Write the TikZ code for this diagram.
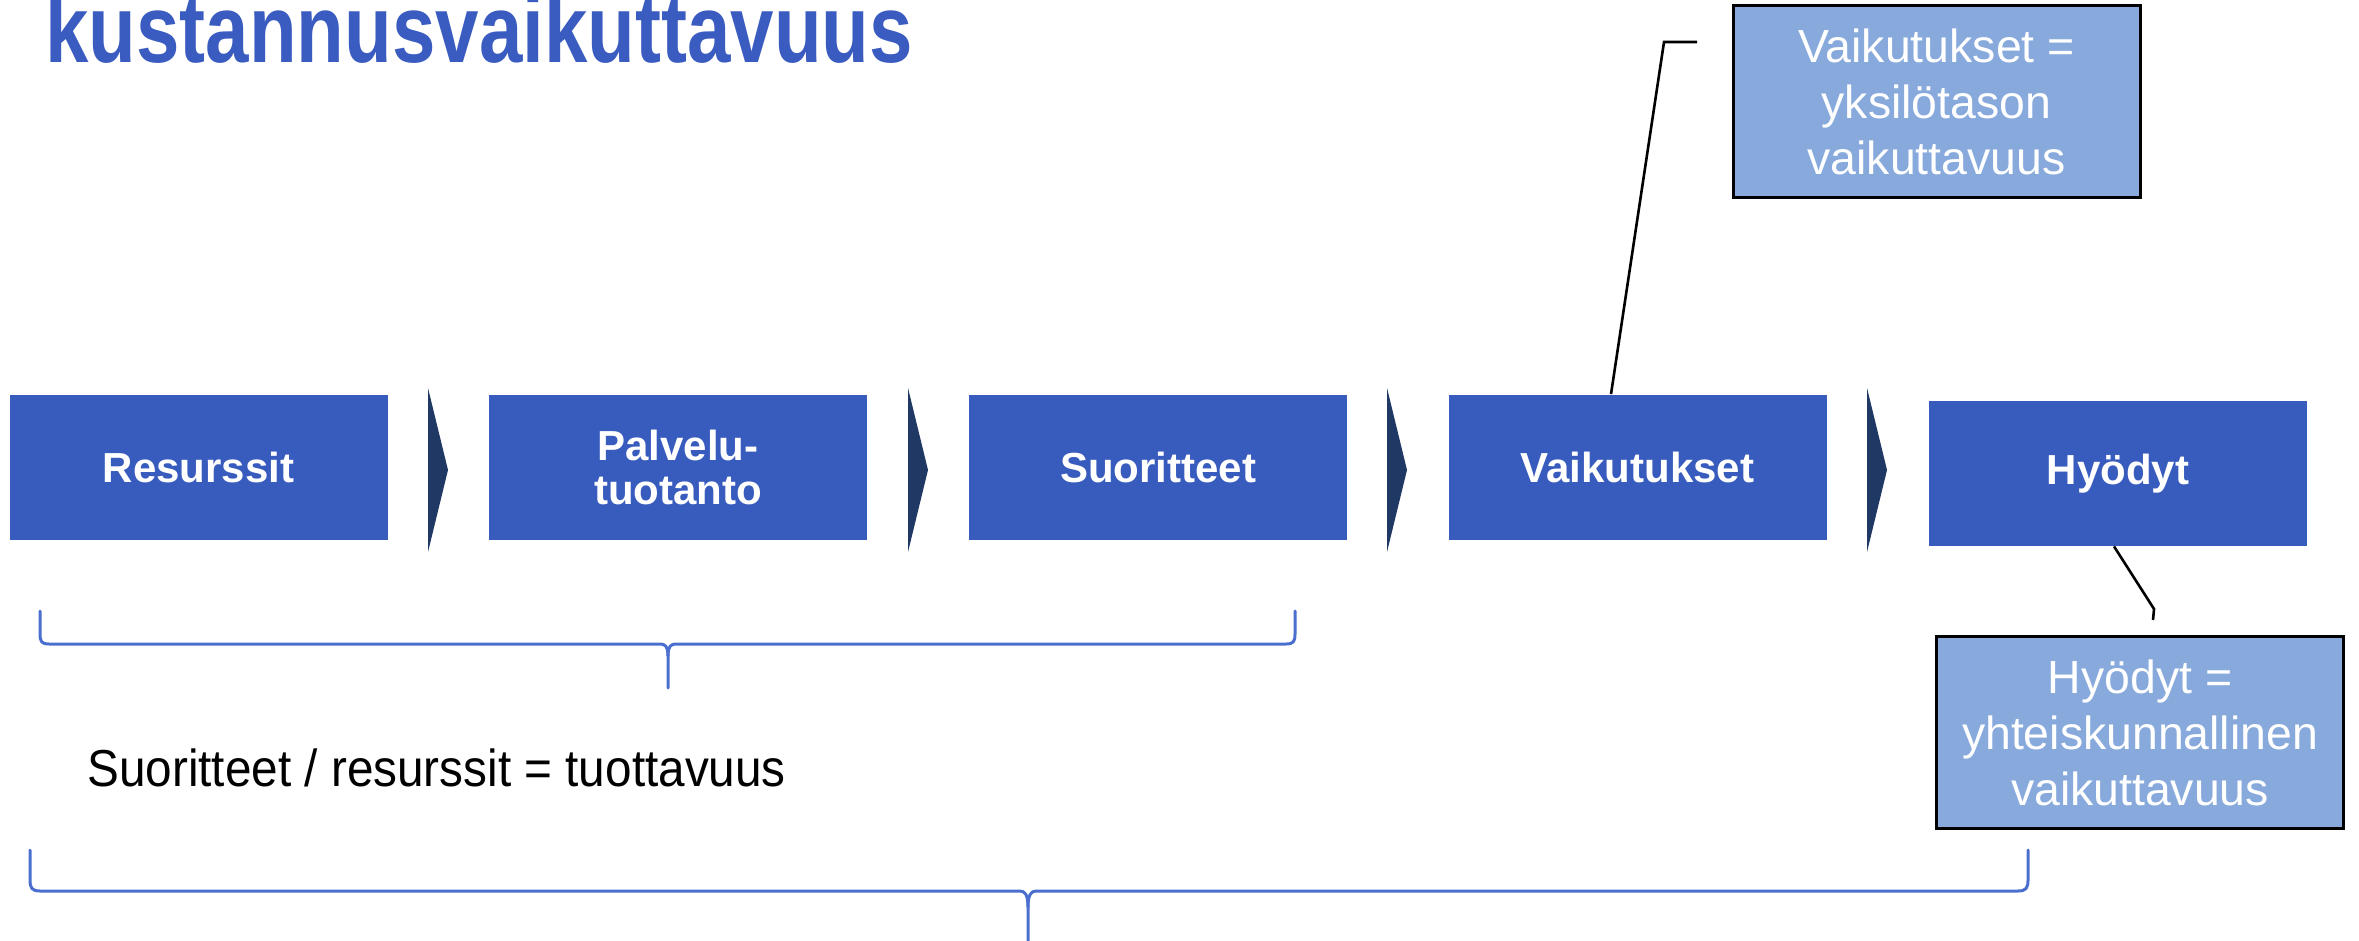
\documentclass[tikz,border=0pt]{standalone}
\usepackage{fontspec}
\setmainfont{Liberation Sans}
\usepackage{graphicx}
\definecolor{boxblue}{HTML}{385BBE}
\definecolor{titleblue}{HTML}{3A5BC0}
\definecolor{navy}{HTML}{1F3864}
\definecolor{callfill}{HTML}{87A9DC}
\definecolor{bracecol}{HTML}{4A6FCF}
\tikzset{
  stepbox/.style={fill=boxblue, draw=none, minimum width=189pt, minimum height=72.5pt, inner sep=0pt, text=white, align=center, font=\fontsize{21}{22}\selectfont\bfseries},
  callout/.style={fill=callfill, draw=black, line width=1.5pt, minimum width=203.5pt, minimum height=96pt, inner sep=0pt, text=white, align=center, font=\fontsize{23.2}{28}\selectfont},
  chev/.style={fill=navy, draw=none},
  bracepath/.style={draw=bracecol, line width=1.5pt, line cap=round, line join=round},
  leader/.style={draw=black, line width=1.3pt}
}
\begin{document}
\begin{tikzpicture}[x=0.5pt,y=-0.5pt]
\useasboundingbox (0,0) rectangle (2359,941);
\clip (0,0) rectangle (2359,941);
\fill[white] (0,0) rectangle (2359,941);

% title
\node[anchor=base west, inner sep=0pt, text=titleblue] (title) at (45,63)
  {\scalebox{0.813}[1]{\fontsize{48}{48}\selectfont\bfseries kustannusvaikuttavuus}};

% step boxes
\node[stepbox] (res) at (198.5,467) {Resurssit};
\node[stepbox] (pal) at (678,467) {Palvelu-\\tuotanto};
\node[stepbox] (suo) at (1158,467) {Suoritteet};
\node[stepbox] (vai) at (1637.5,467) {Vaikutukset};
\node[stepbox] (hyo) at (2118,473.5) {Hyödyt};

% chevrons
\foreach \cx in {428,908,1387,1867}{
  \fill[chev] (\cx,388) -- (\cx+20,470) -- (\cx,552) -- cycle;
}

% callouts
\node[callout] (c1) at (1936.5,102) {Vaikutukset =\\yksilötason\\vaikuttavuus};
\node[callout] (c2) at (2140,732.5) {Hyödyt =\\yhteiskunnallinen\\vaikuttavuus};

% leader lines
\coordinate (l1a) at (1664,42);
\coordinate (l1b) at (1697,42);
\draw[leader] (vai.north -| 1611,0) -- (l1a) -- (l1b);
\coordinate (l2a) at (2154,609);
\coordinate (l2b) at (2153,620);
\draw[leader] (hyo.south -| 2114,0) -- (l2a) -- (l2b);

% ratio text
\node[anchor=base west, inner sep=0pt] (ratio) at (87,786)
  {\scalebox{0.917}[1]{\fontsize{26}{26}\selectfont Suoritteet / resurssit = tuottavuus}};

% brace 1
\draw[bracepath] (40,611) -- (40,634) .. controls (40,642) and (42,644) .. (49,644)
  -- (660,644) .. controls (665,644) and (668,646) .. (668,656) -- (668,688);
\draw[bracepath] (1295,611) -- (1295,634) .. controls (1295,642) and (1293,644) .. (1286,644)
  -- (676,644) .. controls (671,644) and (668,646) .. (668,656);

% brace 2
\draw[bracepath] (30,850) -- (30,880) .. controls (30,888) and (32,891) .. (40,891)
  -- (1020,891) .. controls (1025,891) and (1028,895) .. (1028,907) -- (1028,945);
\draw[bracepath] (2028,850) -- (2028,880) .. controls (2028,888) and (2026,891) .. (2018,891)
  -- (1036,891) .. controls (1031,891) and (1028,895) .. (1028,907);
\end{tikzpicture}
\end{document}
